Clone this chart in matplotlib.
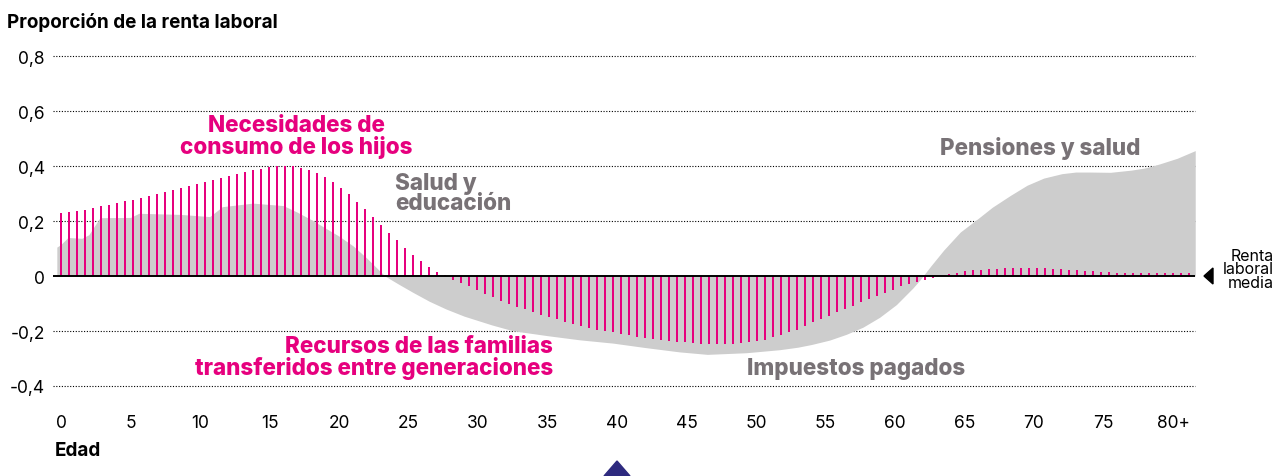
import matplotlib
matplotlib.use("Agg")
import matplotlib.pyplot as plt
import numpy as np
from matplotlib.patches import Polygon

plt.rcParams['font.family'] = ['Inter', 'DejaVu Sans']

####################################################################################
# datos: recursos de las familias (barras, 142 barras de 0 a 80+)
bar_values = [
    0.228, 0.232, 0.236, 0.241, 0.246, 0.253, 0.260, 0.267, 0.272, 0.278,
    0.284, 0.290, 0.297, 0.304, 0.311, 0.319, 0.326, 0.335, 0.343, 0.350,
    0.357, 0.365, 0.372, 0.378, 0.384, 0.390, 0.395, 0.400, 0.401, 0.401,
    0.394, 0.385, 0.374, 0.359, 0.341, 0.320, 0.297, 0.270, 0.244, 0.215,
    0.186, 0.157, 0.130, 0.103, 0.078, 0.053, 0.031, 0.013, 0.002, -0.013,
    -0.025, -0.037, -0.050, -0.065, -0.078, -0.090, -0.101, -0.111, -0.120, -0.130,
    -0.140, -0.150, -0.158, -0.167, -0.175, -0.182, -0.189, -0.196, -0.201, -0.205,
    -0.211, -0.216, -0.220, -0.225, -0.229, -0.233, -0.236, -0.239, -0.241, -0.244,
    -0.246, -0.247, -0.247, -0.247, -0.246, -0.244, -0.241, -0.238, -0.232, -0.223,
    -0.215, -0.205, -0.195, -0.181, -0.168, -0.156, -0.144, -0.132, -0.120, -0.108,
    -0.096, -0.084, -0.072, -0.062, -0.050, -0.038, -0.029, -0.021, -0.013, -0.006,
    -0.001, 0.006, 0.012, 0.017, 0.021, 0.023, 0.025, 0.027, 0.029, 0.029,
    0.029, 0.029, 0.029, 0.028, 0.025, 0.024, 0.023, 0.021, 0.018, 0.017,
    0.015, 0.013, 0.011, 0.011, 0.010, 0.010, 0.010, 0.010, 0.010, 0.010,
    0.010, 0.010,
]
bar_step = 80 / 139  # la barra 139 cae en la marca "80+"
bar_ages = np.arange(len(bar_values)) * bar_step

# datos: transferencias publicas (area gris)
area_ages = [-0.3, 0, 0.5, 1.5, 2, 2.8, 5, 5.6, 8.6, 10.7, 11.6, 13.8, 16, 17,
             18, 19, 20, 21, 22, 23.3, 24.3, 25.3, 26.5, 27.7, 29, 30, 31, 32.5,
             35, 37.3, 39.7, 42, 44.5, 46.5, 49.3, 51.7, 53, 54, 55.3, 56.5,
             57.7, 58.9, 60.1, 61.3, 61.8, 62.6, 63.5, 64.7, 66, 67, 68.3, 69.5,
             70.7, 72, 73, 74, 75.5, 77, 78, 79, 80.3, 81.6]
area_values = [0.105, 0.115, 0.140, 0.137, 0.150, 0.212, 0.213, 0.228, 0.224,
               0.216, 0.252, 0.265, 0.256, 0.232, 0.205, 0.175, 0.145, 0.110,
               0.065, 0.0, -0.030, -0.059, -0.092, -0.120, -0.146, -0.162,
               -0.178, -0.199, -0.217, -0.232, -0.244, -0.260, -0.276, -0.285,
               -0.279, -0.268, -0.259, -0.249, -0.233, -0.212, -0.186, -0.150,
               -0.104, -0.043, -0.014, 0.038, 0.094, 0.160, 0.210, 0.250, 0.293,
               0.330, 0.356, 0.372, 0.378, 0.378, 0.377, 0.385, 0.393, 0.407,
               0.428, 0.456]

x_ticks = [0, 5, 10, 15, 20, 25, 30, 35, 40, 45, 50, 55, 60, 65, 70, 75, 80]
x_labels = ['0', '5', '10', '15', '20', '25', '30', '35', '40', '45', '50',
            '55', '60', '65', '70', '75', '80+']
y_ticks = [-0.4, -0.2, 0, 0.2, 0.4, 0.6, 0.8]
y_labels = ['-0,4', '-0,2', '0', '0,2', '0,4', '0,6', '0,8']

####################################################################################
# colores
magenta = '#E6007E'
grayfill = '#CDCDCD'
graytext = '#787276'

W, H = 1276, 477
fig = plt.figure(figsize=(W / 100, H / 100), dpi=100)
ax = fig.add_axes([53 / W, 1 - 387 / H, (1195 - 53) / W, (387 - 57) / H])

x0 = (53 - 61) / 13.9
x1 = (1195 - 61) / 13.9
ax.set_xlim(x0, x1)
ax.set_ylim(-0.4, 0.8)

ax.fill_between(area_ages, area_values, 0, color=grayfill, lw=0, zorder=1)
ax.bar(bar_ages, bar_values, width=0.21, color=magenta, zorder=2)

for y in y_ticks:
    if y == 0:
        ax.axhline(0, color='black', lw=1.4, zorder=3)
    else:
        ax.axhline(y, color='black', lw=0.8, ls=(0, (1, 1.5)), zorder=0,
                   clip_on=False)

for s in ax.spines.values():
    s.set_visible(False)
ax.set_xticks(x_ticks)
ax.set_xticklabels(x_labels)
ax.set_yticks(y_ticks)
ax.set_yticklabels(y_labels)
ax.tick_params(axis='both', length=0, labelsize=12.5, colors='black')
ax.tick_params(axis='x', pad=20)
ax.tick_params(axis='y', pad=6)


def px_text(x, y, s, **kw):
    # posicion en pixeles de la imagen (origen arriba a la izquierda)
    return fig.text(x / W, 1 - y / H, s, **kw)


px_text(7, 23, 'Proporción de la renta laboral', fontsize=13.6,
        fontweight='bold', va='center', ha='left')
px_text(55, 451, 'Edad', fontsize=13.6, fontweight='bold', va='center', ha='left')

big = 16.2
px_text(296, 137, 'Necesidades de\nconsumo de los hijos', color=magenta,
        fontsize=big, fontweight='heavy', ha='center', va='center', linespacing=0.9)
px_text(395, 194, 'Salud y\neducación', color=graytext, fontsize=big,
        fontweight='heavy', ha='left', va='center', linespacing=0.9)
px_text(1040, 148, 'Pensiones y salud', color=graytext, fontsize=big,
        fontweight='heavy', ha='center', va='center')
px_text(553, 358, 'Recursos de las familias\ntransferidos entre generaciones',
        color=magenta, fontsize=big, fontweight='heavy', ha='right', va='center',
        linespacing=0.9)
px_text(747, 369, 'Impuestos pagados', color=graytext, fontsize=big,
        fontweight='heavy', ha='left', va='center')

px_text(1274, 270, 'Renta\nlaboral\nmedia', fontsize=11.5, ha='right',
        va='center', linespacing=0.85, multialignment='right')
fig.patches.append(Polygon([[1204 / W, 1 - 277 / H], [1213 / W, 1 - 269 / H],
                            [1213 / W, 1 - 285 / H]], closed=True,
                           transform=fig.transFigure, color='black'))
fig.patches.append(Polygon([[604 / W, 0], [617 / W, 1 - 462 / H],
                            [630 / W, 0]], closed=True,
                           transform=fig.transFigure, color='#2E2A7F'))

plt.savefig('out.png', dpi=100)
